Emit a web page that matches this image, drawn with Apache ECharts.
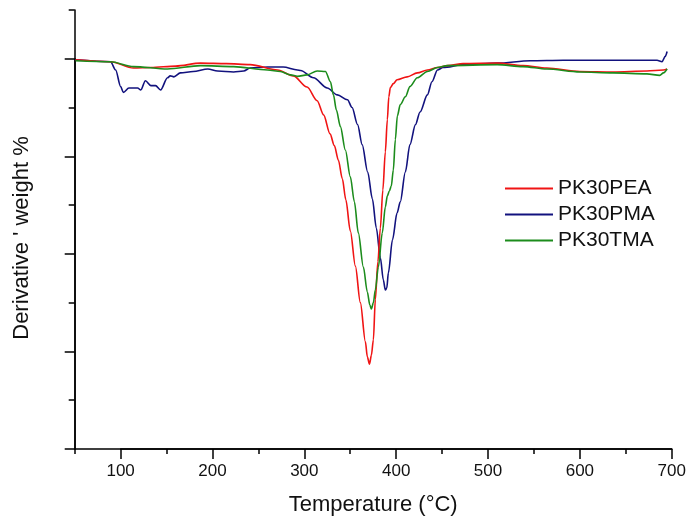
<!DOCTYPE html>
<html>
<head>
<meta charset="utf-8">
<script src="https://cdn.jsdelivr.net/npm/echarts@6/dist/echarts.min.js"></script>
<style>
html,body{margin:0;padding:0;background:#fff;}
#chart{width:693px;height:525px;}
</style>
</head>
<body>
<div id="chart"></div>
<script>
// Data (temperature °C, derivative weight %)
const seriesNames = ['PK30PEA', 'PK30PMA', 'PK30TMA'];
const xTickLabels = [100, 200, 300, 400, 500, 600, 700];
const yMajorTicks = [-8, -6, -4, -2, 0];

const pk30pea = [
  [51,-0.02],[89,-0.06],[114,-0.19],[133,-0.18],[160,-0.15],[187,-0.09],[215,-0.1],[241,-0.12],
  [271,-0.23],[288,-0.35],[303,-0.58],[314,-0.86],[321,-1.15],[328,-1.54],[332.7,-1.78],
  [337.1,-2.08],[341.4,-2.46],[345.2,-2.89],[350.1,-3.53],[355.6,-4.25],[361,-5.0],
  [366.5,-5.8],[368.6,-6.11],[371,-6.26],[373,-6.08],[375.2,-5.76],[377.3,-4.94],
  [380.1,-4.16],[382.8,-3.47],[385.5,-2.69],[388.2,-1.91],[390.4,-1.25],[392,-0.78],
  [393.7,-0.59],[396.9,-0.51],[401,-0.43],[412,-0.37],[423,-0.29],
  [434,-0.23],[445,-0.18],[456,-0.14],[473,-0.1],[510,-0.09],[538,-0.14],[564,-0.19],
  [600,-0.26],[636,-0.27],[673,-0.25],[691,-0.23],[695,-0.21]
];

const pk30pma = [
  [51,-0.02],[89,-0.06],[94.6,-0.23],[100,-0.57],[103,-0.69],[109,-0.6],[118.5,-0.6],
  [122,-0.64],[127,-0.45],[133,-0.55],[138,-0.55],[143.5,-0.64],[151,-0.39],[154,-0.35],
  [158,-0.37],[165,-0.29],[179,-0.26],[195,-0.21],[205.5,-0.25],[223,-0.27],[234,-0.25],
  [241,-0.19],[260,-0.17],[277,-0.17],[292.5,-0.23],[296,-0.24],[310,-0.39],[325,-0.6],
  [336,-0.74],[347,-0.84],[352,-1.0],[358,-1.35],[363,-1.76],[369,-2.32],[374.1,-2.87],
  [378.4,-3.47],[382.8,-4.08],[386,-4.53],[388.2,-4.74],[389.8,-4.70],[391.5,-4.39],
  [396,-3.71],[401,-3.16],[404.5,-2.93],[410,-2.32],[415,-1.76],[421,-1.35],[426,-1.09],
  [434,-0.74],[439,-0.47],[445,-0.23],[451,-0.18],[473,-0.12],[510,-0.09],[546,-0.04],
  [582,-0.03],[655,-0.03],[684,-0.03],[689.5,-0.06],[693,0.05],[695,0.15]
];

const pk30tma = [
  [51,-0.04],[89,-0.06],[114,-0.16],[151,-0.21],[187,-0.14],[223,-0.16],[260,-0.23],
  [274,-0.26],[285,-0.33],[292.5,-0.36],[303,-0.33],[314,-0.25],[323,-0.26],[328.4,-0.47],
  [331.7,-0.74],[334.9,-1.05],[339.3,-1.39],[344.7,-1.87],[350.1,-2.42],[354.5,-2.93],
  [358.8,-3.57],[364.3,-4.27],[368.6,-4.78],[371.4,-5.05],[373,-5.13],[375.2,-5.0],
  [377.3,-4.74],[380.6,-4.27],[384.9,-3.57],[388.2,-3.04],[390.4,-2.81],[392.6,-2.71],
  [394.7,-2.61],[396.9,-2.28],[399.1,-1.66],[401.3,-1.17],[404.5,-0.94],[410,-0.78],
  [415,-0.57],[423,-0.39],[434,-0.26],[445,-0.18],[456,-0.14],
  [510,-0.12],[538,-0.16],[564,-0.21],[600,-0.27],[636,-0.29],[673,-0.31],[687,-0.34],
  [691,-0.29],[695,-0.21]
];

const colors = ['#f01414', '#12127e', '#1c8c1c'];
const font = 'Arial, "Liberation Sans", sans-serif';

// main plot area: x 50..700, y -8..1
const X0 = 74.7, XR = 21.3, YT = 10, YB = 76;
const pxPerX = (693 - X0 - XR) / 650;
const pxPerY = (525 - YT - YB) / 9;
const axisLineStyle = {color: '#000', width: 1.5};

const chart = echarts.init(document.getElementById('chart'), null, {renderer: 'canvas'});
chart.setOption({
  animation: false,
  backgroundColor: '#fff',
  color: colors,
  grid: [
    {left: X0, right: XR, top: YT, bottom: YB},
    {left: X0 + 50 * pxPerX, right: XR, top: YT, bottom: YB},
    {left: X0, right: XR, top: YT + pxPerY, bottom: YB}
  ],
  legend: {
    orient: 'vertical',
    left: 505,
    top: 178,
    padding: 0,
    icon: 'rect',
    itemWidth: 48,
    itemHeight: 2,
    itemGap: 5,
    itemTextGap: 9,
    textStyle: {fontFamily: font, fontSize: 21, color: '#111'},
    data: seriesNames
  },
  xAxis: [{
    gridIndex: 0,
    type: 'value', min: 50, max: 700, interval: 50,
    position: 'bottom',
    name: 'Temperature (°C)', nameLocation: 'middle', nameGap: 45,
    nameTextStyle: {fontFamily: font, fontSize: 22, color: '#111'},
    axisLine: {show: true, onZero: false, lineStyle: axisLineStyle},
    axisTick: {show: true, inside: false, length: 5, lineStyle: axisLineStyle},
    axisLabel: {show: false},
    splitLine: {show: false}
  }, {
    gridIndex: 1,
    type: 'value', min: xTickLabels[0], max: xTickLabels[xTickLabels.length - 1], interval: 100,
    position: 'bottom',
    axisLine: {show: true, onZero: false, lineStyle: axisLineStyle},
    axisTick: {show: true, inside: false, length: 10, lineStyle: axisLineStyle},
    axisLabel: {show: true, margin: 14, fontFamily: font, fontSize: 17, color: '#111'},
    splitLine: {show: false}
  }, {
    gridIndex: 2, type: 'value', min: 50, max: 700, show: false
  }],
  yAxis: [{
    gridIndex: 0,
    type: 'value', min: -8, max: 1, interval: 1,
    position: 'left',
    name: "Derivative ' weight %", nameLocation: 'middle', nameGap: 42,
    nameTextStyle: {fontFamily: font, fontSize: 22, color: '#111', padding: [0, 17, 0, 0]},
    axisLine: {show: true, onZero: false, lineStyle: axisLineStyle},
    axisTick: {show: true, inside: false, length: 6, lineStyle: axisLineStyle},
    axisLabel: {show: false},
    splitLine: {show: false}
  }, {
    gridIndex: 1, type: 'value', min: -8, max: 1, show: false
  }, {
    gridIndex: 2,
    type: 'value', min: yMajorTicks[0], max: yMajorTicks[yMajorTicks.length - 1], interval: 2,
    position: 'left',
    axisLine: {show: true, onZero: false, lineStyle: axisLineStyle},
    axisTick: {show: true, inside: false, length: 10, lineStyle: axisLineStyle},
    axisLabel: {show: false},
    splitLine: {show: false}
  }],
  series: [
    {name: seriesNames[0], type: 'line', data: pk30pea, showSymbol: false, smooth: 0.3, smoothMonotone: 'x',
     lineStyle: {width: 1.6, color: colors[0]}, itemStyle: {color: colors[0]}, z: 3},
    {name: seriesNames[1], type: 'line', data: pk30pma, showSymbol: false, smooth: 0.3, smoothMonotone: 'x',
     lineStyle: {width: 1.6, color: colors[1]}, itemStyle: {color: colors[1]}, z: 2},
    {name: seriesNames[2], type: 'line', data: pk30tma, showSymbol: false, smooth: 0.3, smoothMonotone: 'x',
     lineStyle: {width: 1.6, color: colors[2]}, itemStyle: {color: colors[2]}, z: 4}
  ]
});
</script>
</body>
</html>
